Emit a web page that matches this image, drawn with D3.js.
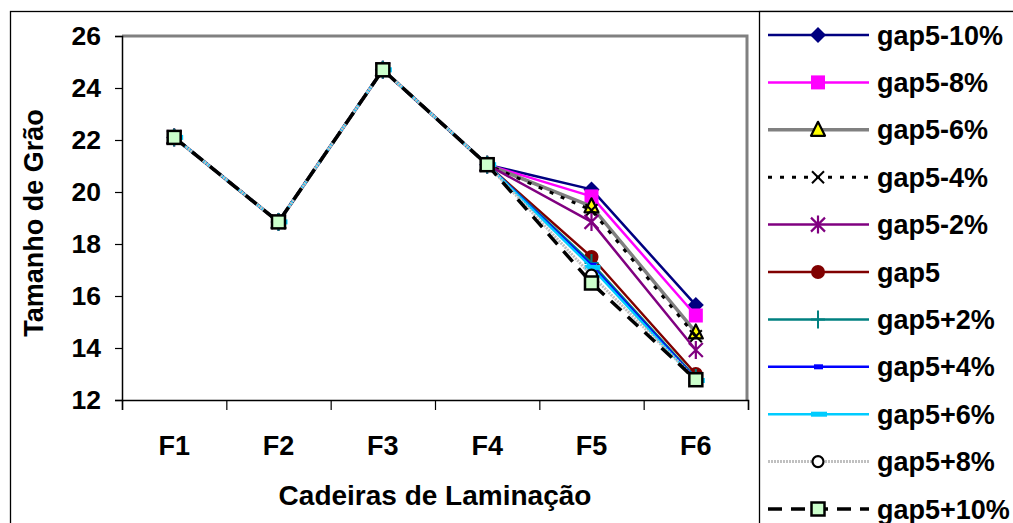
<!DOCTYPE html>
<html><head><meta charset="utf-8">
<script src="https://cdn.jsdelivr.net/npm/d3@7"></script>
<style>
html,body{margin:0;padding:0;background:#fff;}
text{font-family:Arial,"Liberation Sans",sans-serif;font-weight:bold;fill:#000;}
</style></head>
<body>
<svg id="c" width="1013" height="523"></svg>
<script>
const categories = ["F1","F2","F3","F4","F5","F6"];
const yTicks = [12,14,16,18,20,22,24,26];
const seriesNames = ["gap5-10%","gap5-8%","gap5-6%","gap5-4%","gap5-2%","gap5","gap5+2%","gap5+4%","gap5+6%","gap5+8%","gap5+10%"];
const vGap5m10 = [22.1, 18.85, 24.7, 21.05, 20.1, 15.65];
const vGap5m8  = [22.1, 18.85, 24.7, 21.05, 19.83, 15.25];
const vGap5m6  = [22.1, 18.85, 24.7, 21.05, 19.45, 14.6];
const vGap5m4  = [22.1, 18.85, 24.7, 21.05, 19.3, 14.45];
const vGap5m2  = [22.1, 18.85, 24.7, 21.05, 18.85, 13.92];
const vGap5    = [22.1, 18.85, 24.7, 21.05, 17.5, 13.0];
const vGap5p2  = [22.1, 18.85, 24.7, 21.05, 17.27, 12.85];
const vGap5p4  = [22.1, 18.85, 24.7, 21.05, 17.18, 12.8];
const vGap5p6  = [22.1, 18.85, 24.7, 21.05, 17.1, 12.75];
const vGap5p8  = [22.1, 18.85, 24.7, 21.05, 16.8, 12.8];
const vGap5p10 = [22.1, 18.85, 24.7, 21.05, 16.5, 12.78];
const seriesValues = [vGap5m10,vGap5m8,vGap5m6,vGap5m4,vGap5m2,vGap5,vGap5p2,vGap5p4,vGap5p6,vGap5p8,vGap5p10];

// styles
const styles = [
  {color:"#000080", w:2.5, dash:null, marker:"diamond", fill:"#000080", mstroke:"#000080"},
  {color:"#FF00FF", w:2.5, dash:null, marker:"square", fill:"#FF00FF", mstroke:"#FF00FF"},
  {color:"#808080", w:3.5, dash:null, marker:"triangle", fill:"#FFFF00", mstroke:"#000"},
  {color:"#000000", w:3, dash:"4,8", marker:"x", fill:"none", mstroke:"#000"},
  {color:"#800080", w:2.5, dash:null, marker:"asterisk", fill:"none", mstroke:"#800080"},
  {color:"#800000", w:2.5, dash:null, marker:"circle", fill:"#800000", mstroke:"#800000"},
  {color:"#008080", w:2.5, dash:null, marker:"plus", fill:"none", mstroke:"#008080"},
  {color:"#0000FF", w:2.5, dash:null, marker:"bar8", fill:"#0000FF", mstroke:"#0000FF"},
  {color:"#00CCFF", w:2.5, dash:null, marker:"bar14", fill:"#00CCFF", mstroke:"#00CCFF"},
  {color:"#C0C0C0", w:3, dash:"2,1", marker:"ocircle", fill:"#fff", mstroke:"#000"},
  {color:"#000000", w:3.5, dash:"14,9", marker:"gsquare", fill:"#CCFFCC", mstroke:"#000"}
];

const FONT = 'Arial,"Liberation Sans",sans-serif';
const svg = d3.select("#c");
const L=122, R=748, T=36, B=400;
const x = d3.scaleBand().domain(categories).range([L,R]);
const xi = d3.scaleLinear().domain([0,categories.length]).range([L,R]);
const y = d3.scaleLinear().domain([12,26]).range([B,T]);
const cx = c => x(c) + x.bandwidth()/2;

// outer frames
svg.append("rect").attr("x",10.5).attr("y",11.5).attr("width",1100).attr("height",600)
  .attr("fill","#fff").attr("stroke","#000").attr("stroke-width",1.3);
svg.append("rect").attr("x",759.5).attr("y",11.5).attr("width",400).attr("height",600)
  .attr("fill","#fff").attr("stroke","#000").attr("stroke-width",1.3);

// plot frame (top/right gray)
svg.append("path").attr("d",`M${L},${T}H${R-1}V${B}`).attr("fill","none")
  .attr("stroke","#808080").attr("stroke-width",3);

// y axis
const ya = svg.append("g").attr("transform",`translate(${L},0)`)
  .call(d3.axisLeft(y).tickValues(yTicks).tickSize(7).tickPadding(14).tickFormat(d3.format("d")));
ya.select(".domain").attr("stroke","#000").attr("stroke-width",1.5);
ya.selectAll(".tick line").attr("stroke","#000").attr("stroke-width",1.2);
ya.selectAll("text").attr("font-size",26.5).attr("font-family",FONT).attr("font-weight","bold").attr("fill","#000");

// x axis boundary ticks
const xb = svg.append("g").attr("transform",`translate(0,${B})`)
  .call(d3.axisBottom(xi).tickValues(d3.range(categories.length+1)).tickSize(10).tickFormat(""));
xb.select(".domain").attr("stroke","#000").attr("stroke-width",1.5);
xb.selectAll(".tick line").attr("stroke","#000").attr("stroke-width",1.2);
// x labels
const xl = svg.append("g").attr("transform",`translate(0,${B})`)
  .call(d3.axisBottom(x).tickSize(0).tickPadding(36));
xl.select(".domain").remove();
xl.selectAll("text").attr("font-size",27).attr("font-family",FONT).attr("font-weight","bold").attr("fill","#000");

// axis titles
svg.append("text").attr("x",(L+R)/2).attr("y",505).attr("text-anchor","middle")
  .attr("font-size",28).text("Cadeiras de Laminação");
svg.append("text").attr("transform",`translate(43,${(T+B)/2+5}) rotate(-90)`).attr("text-anchor","middle")
  .attr("font-size",27).text("Tamanho de Grão");

// markers
function drawMarker(g, type, s, px, py){
  switch(type){
    case "diamond":
      g.append("path").attr("d",`M${px},${py-8}L${px+8},${py}L${px},${py+8}L${px-8},${py}Z`).attr("fill",s.fill);
      break;
    case "square":
      g.append("rect").attr("x",px-7).attr("y",py-7).attr("width",14).attr("height",14).attr("fill",s.fill);
      break;
    case "triangle":
      g.append("path").attr("d",`M${px},${py-8}L${px+7},${py+6}L${px-7},${py+6}Z`).attr("fill",s.fill).attr("stroke","#000").attr("stroke-width",2.2).attr("stroke-linejoin","round");
      break;
    case "x":
      g.append("path").attr("d",`M${px-6},${py-6}L${px+6},${py+6}M${px+6},${py-6}L${px-6},${py+6}`).attr("stroke","#000").attr("stroke-width",2);
      break;
    case "asterisk":
      g.append("path").attr("d",`M${px-7},${py-7}L${px+7},${py+7}M${px+7},${py-7}L${px-7},${py+7}M${px},${py-9}V${py+9}`).attr("stroke",s.mstroke).attr("stroke-width",2.2);
      break;
    case "circle":
      g.append("circle").attr("cx",px).attr("cy",py).attr("r",7).attr("fill",s.fill);
      break;
    case "plus":
      g.append("path").attr("d",`M${px-7},${py}H${px+7}M${px},${py-9}V${py+9}`).attr("stroke",s.mstroke).attr("stroke-width",2);
      break;
    case "bar8":
      g.append("rect").attr("x",px-4).attr("y",py-2.5).attr("width",9).attr("height",5).attr("fill",s.fill);
      break;
    case "bar14":
      g.append("rect").attr("x",px-7).attr("y",py-2.5).attr("width",16).attr("height",5).attr("fill",s.fill);
      break;
    case "ocircle":
      g.append("circle").attr("cx",px).attr("cy",py).attr("r",5.5).attr("fill","#fff").attr("stroke","#000").attr("stroke-width",2.2);
      break;
    case "gsquare":
      g.append("rect").attr("x",px-6.5).attr("y",py-6.5).attr("width",13).attr("height",13).attr("fill",s.fill).attr("stroke","#000").attr("stroke-width",2.5);
      break;
  }
}

const line = d3.line().x((d,i)=>cx(categories[i])).y(d=>y(d));
const plot = svg.append("g");
seriesValues.forEach((vals,si)=>{
  const st = styles[si];
  const g = plot.append("g");
  g.append("path").datum(vals).attr("d",line).attr("fill","none")
    .attr("stroke",st.color).attr("stroke-width",st.w)
    .attr("stroke-dasharray",st.dash)
    .attr("stroke-linejoin","round");
  vals.forEach((v,i)=>drawMarker(g, st.marker, st, cx(categories[i]), y(v)));
});

// legend
const lg = svg.append("g");
const rowY = d3.scaleLinear().domain([0,seriesNames.length-1]).range([35,509]);
seriesNames.forEach((n,si)=>{
  const st = styles[si];
  const yy = rowY(si);
  const g = lg.append("g");
  g.append("line").attr("x1",768).attr("x2",869).attr("y1",yy).attr("y2",yy)
    .attr("stroke",st.color).attr("stroke-width",st.w).attr("stroke-dasharray",st.dash);
  drawMarker(g, st.marker, st, 818, yy);
  g.append("text").attr("x",877).attr("y",yy+9.5).attr("font-size",27).text(n);
});
</script>
</body></html>
